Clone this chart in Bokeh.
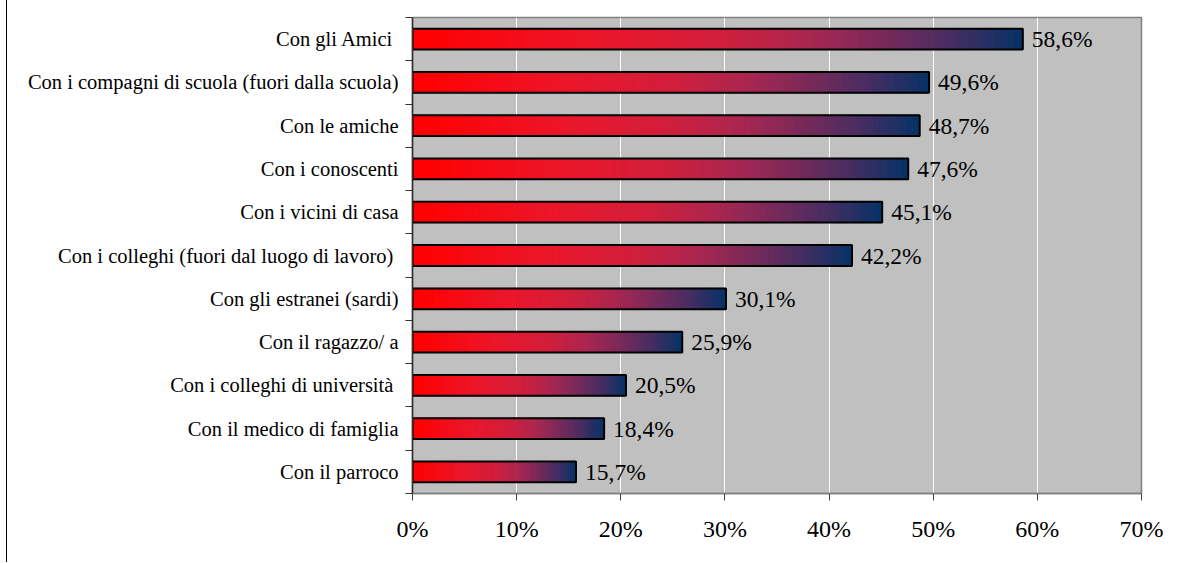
from bokeh.plotting import figure
from bokeh.models import FixedTicker, ColumnDataSource, Range1d
from bokeh.core.properties import value
from bokeh.embed import file_html
from bokeh.resources import INLINE

# ---- data (top to bottom as in the chart) ----
categories = [
    "Con gli Amici ",
    "Con i compagni di scuola (fuori dalla scuola)",
    "Con le amiche",
    "Con i conoscenti",
    "Con i vicini di casa",
    "Con i colleghi (fuori dal luogo di lavoro) ",
    "Con gli estranei (sardi)",
    "Con il ragazzo/ a",
    "Con i colleghi di università ",
    "Con il medico di famiglia",
    "Con il parroco",
]
values = [58.6, 49.6, 48.7, 47.6, 45.1, 42.2, 30.1, 25.9, 20.5, 18.4, 15.7]
x_ticks = [0, 10, 20, 30, 40, 50, 60, 70]
x_tick_labels = ["0%", "10%", "20%", "30%", "40%", "50%", "60%", "70%"]

# ---- style ----
FONT = "Liberation Serif"
STOPS = [
    (0.00, (255, 0, 0)),
    (0.30, (235, 22, 42)),
    (0.50, (210, 30, 58)),
    (0.65, (170, 38, 80)),
    (0.80, (110, 42, 92)),
    (0.90, (65, 45, 98)),
    (1.00, (8, 50, 102)),
]


def grad(t):
    for (t0, c0), (t1, c1) in zip(STOPS[:-1], STOPS[1:]):
        if t <= t1:
            f = (t - t0) / (t1 - t0) if t1 > t0 else 0
            r, g, b = (round(a + (bb - a) * f) for a, bb in zip(c0, c1))
            return "#%02x%02x%02x" % (r, g, b)
    return "#%02x%02x%02x" % STOPS[-1][1]


n = len(categories)
ys = [n - 1 - i + 0.5 for i in range(n)]

p = figure(
    frame_width=729, frame_height=476,
    min_border_left=405, min_border_right=40,
    min_border_top=17, min_border_bottom=69,
    x_range=Range1d(0, 70), y_range=Range1d(0, n),
    output_backend="svg", toolbar_location=None,
    background_fill_color="#C0C0C0", border_fill_color="white",
)
p.styles = {"border-left": "1.5px solid #000000", "margin-left": "6px"}

p.outline_line_color = "#808080"
p.outline_line_width = 1.5
p.xgrid.grid_line_color = "white"
p.xgrid.grid_line_width = 1
p.ygrid.grid_line_color = None

# gradient bars built from slices
N = 90
sl_y, sl_l, sl_r, sl_c = [], [], [], []
for v, y in zip(values, ys):
    for k in range(N):
        sl_y.append(y)
        sl_l.append(v * k / N)
        sl_r.append(v * (k + 1) / N)
        sl_c.append(grad(k / (N - 1)))
src = ColumnDataSource(dict(y=sl_y, left=sl_l, right=sl_r, color=sl_c))
p.hbar(y="y", left="left", right="right", height=0.48, source=src,
       fill_color="color", line_color="color", line_width=1)

# outlines
p.hbar(y=ys, left=0, right=values, height=0.48, fill_color=None,
       line_color="black", line_width=2)

# value labels
labels = [("%.1f%%" % v).replace(".", ",") for v in values]
p.text(x=values, y=ys, text=labels, x_offset=9, text_baseline="middle",
       text_align="left", text_font=value(FONT), text_font_size="23.5px",
       text_color="black")

# x axis
p.xaxis.ticker = FixedTicker(ticks=x_ticks)
p.xaxis.major_label_overrides = {t: l for t, l in zip(x_ticks, x_tick_labels)}
p.xaxis.major_label_text_font = FONT
p.xaxis.major_label_text_font_size = "24px"
p.xaxis.major_label_text_color = "black"
p.xaxis.axis_line_color = "#808080"
p.xaxis.axis_line_width = 1.5
p.xaxis.major_tick_line_color = "#404040"
p.xaxis.major_tick_out = 7
p.xaxis.major_tick_in = 0
p.xaxis.minor_tick_line_color = None
p.xaxis.major_label_standoff = 15

# y axis: labels at centres, ticks at category boundaries
p.yaxis.ticker = FixedTicker(ticks=ys, minor_ticks=list(range(n + 1)))
p.yaxis.major_label_overrides = {y: c for y, c in zip(ys, categories)}
p.yaxis.major_label_text_font = FONT
p.yaxis.major_label_text_font_size = "20.5px"
p.yaxis.major_label_text_color = "black"
p.yaxis.axis_line_color = "#303030"
p.yaxis.axis_line_width = 1.5
p.yaxis.major_tick_line_color = None
p.yaxis.major_tick_out = 0
p.yaxis.major_tick_in = 0
p.yaxis.minor_tick_line_color = "#303030"
p.yaxis.minor_tick_out = 7
p.yaxis.minor_tick_in = 0
p.yaxis.major_label_standoff = 7

open("out.html", "w").write(file_html(p, INLINE))
